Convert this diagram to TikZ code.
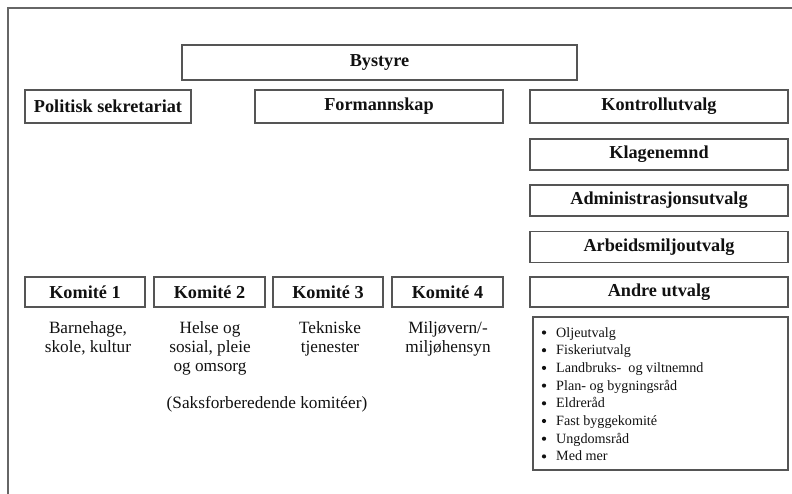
\documentclass[tikz,border=0pt]{standalone}
\usepackage{fontspec}
\setmainfont{Liberation Serif}
\definecolor{boxgray}{HTML}{555555}
\definecolor{framegray}{HTML}{666666}
\definecolor{ink}{HTML}{111111}
\begin{document}
\begin{tikzpicture}[x=1bp,y=-1bp,
  unit/.style={draw=boxgray, line width=1.2bp, inner sep=0pt,
    font=\fontsize{18.3}{20}\selectfont\bfseries, text=ink},
  desc/.style={align=center, anchor=north, font=\fontsize{17.3}{19}\selectfont, text=ink, inner sep=0pt},
  listitem/.style={anchor=base west, inner sep=0pt, font=\fontsize{14.2}{17}\selectfont, text=ink},
  dot/.style={fill=ink, circle, inner sep=0pt, minimum size=4.2bp}]
\useasboundingbox (0,0) rectangle (792,494);
\draw[framegray, line width=1.8bp] (8,494) -- (8,8) -- (792,8);

\node[unit, minimum width=395bp, minimum height=35bp] (by) at (379.5,62.5) {Bystyre};
\node[unit, minimum width=166bp, minimum height=33bp] (ps) at (108,106.5) {Politisk sekretariat};
\node[unit, minimum width=248bp, minimum height=33bp] (fm) at (379,106.5) {Formannskap};
\node[unit, minimum width=258bp, minimum height=33bp] (ku) at (659,106.5) {Kontrollutvalg};
\node[unit, minimum width=258bp, minimum height=31bp] (kn) at (659,154.5) {Klagenemnd};
\node[unit, minimum width=258bp, minimum height=31bp] (au) at (659,200.5) {Administrasjonsutvalg};
\node[unit, minimum width=258bp, minimum height=31bp] (am) at (659,247) {Arbeidsmiljoutvalg};
\node[unit, minimum width=258bp, minimum height=30bp] (an) at (659,292) {Andre utvalg};

\node[unit, minimum width=120bp, minimum height=30bp] (k1) at (85,292) {Komité 1};
\node[unit, minimum width=111bp, minimum height=30bp] (k2) at (209.5,292) {Komité 2};
\node[unit, minimum width=110bp, minimum height=30bp] (k3) at (328,292) {Komité 3};
\node[unit, minimum width=111bp, minimum height=30bp] (k4) at (447.5,292) {Komité 4};

\node[desc] (d1) at (88,321) {Barnehage,\\skole, kultur};
\node[desc] (d2) at (210,321) {Helse og\\sosial, pleie\\og omsorg};
\node[desc] (d3) at (330,321) {Tekniske\\tjenester};
\node[desc] (d4) at (448,321) {Miljøvern/-\\miljøhensyn};
\node[desc, anchor=center] (sk) at (267,404) {(Saksforberedende komitéer)};

\node[draw=boxgray, line width=1.2bp, inner sep=0pt, minimum width=255bp, minimum height=153bp] (lb) at (660.5,393.5) {};

\foreach \t [count=\i from 0] in {Oljeutvalg, Fiskeriutvalg, Landbruks-\ \ og viltnemnd, Plan- og bygningsråd, Eldreråd, Fast byggekomité, Ungdomsråd, Med mer}{
  \node[listitem] (li\i) at (556,337+17.7*\i) {\t};
  \node[dot] (bu\i) at (544,332.5+17.7*\i) {};
}
\end{tikzpicture}
\end{document}
